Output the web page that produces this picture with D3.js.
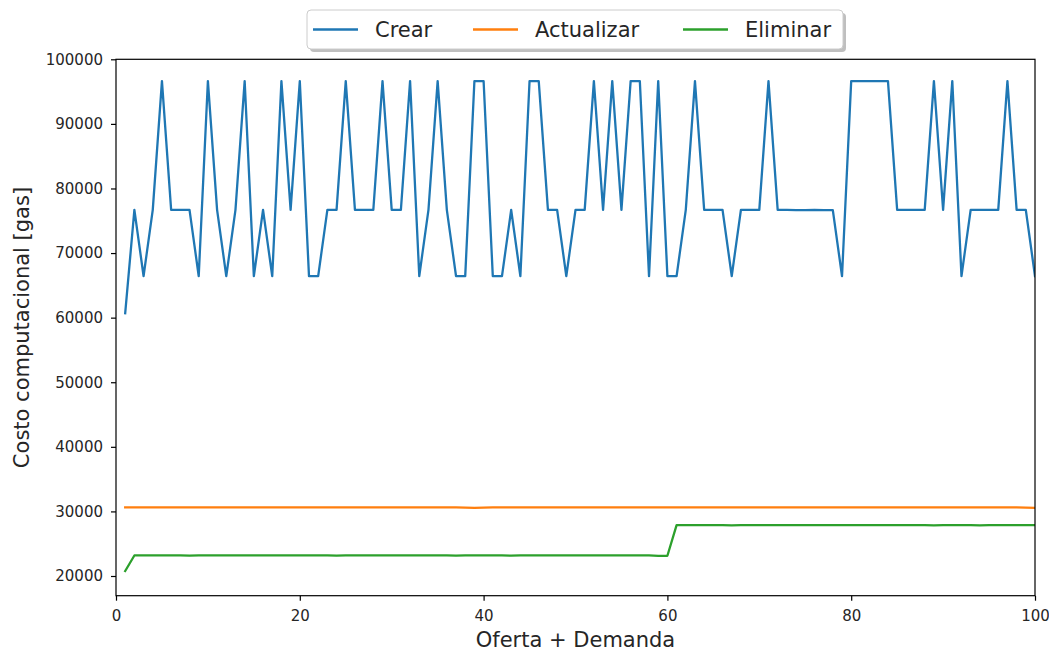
<!DOCTYPE html>
<html>
<head>
<meta charset="utf-8">
<script src="https://cdn.jsdelivr.net/npm/d3@7"></script>
<style>
  body { margin: 0; background: #fff; }
  svg { display: block; font-family: "DejaVu Sans", sans-serif; }
</style>
</head>
<body>
<svg id="chart"></svg>
<script>
const width = 1049, height = 651

// x values: Oferta + Demanda
const ofertaDemanda = [
    1, 2, 3, 4, 5, 6, 7, 8, 9, 10, 11, 12, 13, 14, 15, 16, 17, 18, 19, 20,
    21, 22, 23, 24, 25, 26, 27, 28, 29, 30, 31, 32, 33, 34, 35, 36, 37, 38, 39, 40,
    41, 42, 43, 44, 45, 46, 47, 48, 49, 50, 51, 52, 53, 54, 55, 56, 57, 58, 59, 60,
    61, 62, 63, 64, 65, 66, 67, 68, 69, 70, 71, 72, 73, 74, 75, 76, 77, 78, 79, 80,
    81, 82, 83, 84, 85, 86, 87, 88, 89, 90, 91, 92, 93, 94, 95, 96, 97, 98, 99, 100
]

const crear = [
    60670, 76690, 66430, 76690, 96630, 76690, 76690, 76690, 66430, 96630,
    76690, 66430, 76690, 96630, 66430, 76690, 66430, 96630, 76690, 96630,
    66430, 66430, 76690, 76690, 96630, 76690, 76690, 76690, 96630, 76690,
    76690, 96630, 66430, 76690, 96630, 76690, 66430, 66430, 96630, 96630,
    66430, 66430, 76690, 66430, 96630, 96630, 76690, 76690, 66430, 76690,
    76690, 96630, 76690, 96630, 76690, 96630, 96630, 66430, 96630, 66430,
    66430, 76690, 96630, 76690, 76690, 76690, 66430, 76690, 76690, 76690,
    96630, 76690, 76690, 76650, 76650, 76690, 76650, 76650, 66430, 96630,
    96630, 96630, 96630, 96630, 76690, 76690, 76690, 76690, 96630, 76690,
    96630, 66430, 76690, 76690, 76690, 76690, 96630, 76690, 76690, 66430
]

const actualizar = [
    30620, 30620, 30620, 30620, 30620, 30620, 30620, 30620, 30620, 30620,
    30620, 30620, 30620, 30620, 30620, 30620, 30620, 30620, 30620, 30620,
    30620, 30620, 30620, 30620, 30620, 30620, 30620, 30620, 30620, 30620,
    30620, 30620, 30620, 30620, 30620, 30620, 30620, 30600, 30560, 30600,
    30620, 30620, 30620, 30620, 30620, 30620, 30620, 30620, 30620, 30620,
    30620, 30620, 30620, 30620, 30620, 30620, 30620, 30620, 30620, 30620,
    30620, 30620, 30620, 30620, 30620, 30620, 30620, 30620, 30620, 30620,
    30620, 30620, 30620, 30620, 30620, 30620, 30620, 30620, 30620, 30620,
    30620, 30620, 30620, 30620, 30620, 30620, 30620, 30620, 30620, 30620,
    30620, 30620, 30620, 30620, 30620, 30620, 30620, 30620, 30600, 30540
]

const eliminar = [
    20770, 23180, 23180, 23180, 23180, 23180, 23180, 23150, 23180, 23180,
    23180, 23180, 23180, 23180, 23180, 23180, 23180, 23180, 23180, 23180,
    23180, 23180, 23180, 23150, 23180, 23180, 23180, 23180, 23180, 23180,
    23180, 23180, 23180, 23180, 23180, 23180, 23150, 23180, 23180, 23180,
    23180, 23180, 23150, 23180, 23180, 23180, 23180, 23180, 23180, 23180,
    23180, 23180, 23180, 23180, 23180, 23180, 23180, 23180, 23130, 23130,
    27870, 27870, 27870, 27870, 27870, 27870, 27850, 27870, 27870, 27870,
    27870, 27870, 27870, 27870, 27870, 27870, 27870, 27870, 27870, 27870,
    27870, 27870, 27870, 27870, 27870, 27870, 27870, 27870, 27850, 27870,
    27870, 27870, 27870, 27850, 27870, 27870, 27870, 27870, 27870, 27870
]

const seriesNames = ["Crear", "Actualizar", "Eliminar"]
const seriesValues = [crear, actualizar, eliminar]
const seriesColors = ["#1f77b4", "#ff7f0e", "#2ca02c"]

const xTicks = [0, 20, 40, 60, 80, 100]
const yTicks = [20000, 30000, 40000, 50000, 60000, 70000, 80000, 90000, 100000]

const margin = {left: 116, right: width - 1035, top: 59.3, bottom: height - 595.7}

const svg = d3.select("#chart")
    .attr("width", width)
    .attr("height", height)

svg.append("rect").attr("width", width).attr("height", height).attr("fill", "#fff")

let x = d3.scaleLinear()
    .domain([0, 100])
    .range([margin.left, width - margin.right])

let y = d3.scaleLinear()
    .domain([16950, 100000])
    .range([height - margin.bottom, margin.top])

svg.append("defs").append("clipPath").attr("id", "clip")
    .append("rect")
    .attr("x", margin.left).attr("y", margin.top)
    .attr("width", x.range()[1] - x.range()[0])
    .attr("height", y.range()[0] - y.range()[1])

// lines
let line = d3.line()
    .x((d, i) => x(ofertaDemanda[i]))
    .y(d => y(d))

svg.append("g")
    .attr("clip-path", "url(#clip)")
    .selectAll("path")
    .data(seriesValues)
    .enter()
    .append("path")
    .attr("d", d => line(d))
    .attr("fill", "none")
    .attr("stroke", (d, i) => seriesColors[i])
    .attr("stroke-width", 2.3)
    .attr("stroke-linejoin", "round")
    .attr("stroke-linecap", "square")

// axes
let xAxis = svg.append("g")
    .attr("transform", `translate(0,${height - margin.bottom})`)
    .call(d3.axisBottom(x).tickValues(xTicks).tickFormat(d3.format("d")).tickSizeOuter(0).tickSize(5).tickPadding(10))

let yAxis = svg.append("g")
    .attr("transform", `translate(${margin.left},0)`)
    .call(d3.axisLeft(y).tickValues(yTicks).tickFormat(d3.format("d")).tickSizeOuter(0).tickSize(5).tickPadding(8))

for (let ax of [xAxis, yAxis]) {
    ax.select(".domain").remove()
    ax.selectAll("line").attr("stroke", "#000").attr("stroke-width", 1.2)
    ax.selectAll("text")
        .attr("font-family", "DejaVu Sans")
        .attr("font-size", "15px")
        .attr("fill", "#262626")
}

// spines
svg.append("rect")
    .attr("x", margin.left).attr("y", margin.top)
    .attr("width", x.range()[1] - x.range()[0])
    .attr("height", y.range()[0] - y.range()[1])
    .attr("fill", "none")
    .attr("stroke", "#000")
    .attr("stroke-width", 1.2)

// axis labels
svg.append("text")
    .attr("x", (x.range()[0] + x.range()[1]) / 2)
    .attr("y", 647)
    .attr("text-anchor", "middle")
    .attr("font-size", "21px")
    .attr("fill", "#262626")
    .text("Oferta + Demanda")

svg.append("text")
    .attr("transform", `translate(29,${(y.range()[0] + y.range()[1]) / 2}) rotate(-90)`)
    .attr("text-anchor", "middle")
    .attr("font-size", "21px")
    .attr("fill", "#262626")
    .text("Costo computacional [gas]")

// legend
svg.append("rect") // shadow
    .attr("x", 310).attr("y", 13)
    .attr("width", 536).attr("height", 39)
    .attr("rx", 4)
    .attr("fill", "#808080")
    .attr("fill-opacity", 0.5)
svg.append("rect")
    .attr("x", 307).attr("y", 10)
    .attr("width", 536).attr("height", 39)
    .attr("rx", 4)
    .attr("fill", "#fff")
    .attr("stroke", "#ccc")
    .attr("stroke-width", 1)

const legendLineX = [313, 473, 683]
let item = svg.append("g").selectAll("g")
    .data(seriesNames)
    .enter()
    .append("g")
    .attr("transform", (d, i) => `translate(${legendLineX[i]},29.5)`)

item.append("line")
    .attr("x1", 0).attr("x2", 45)
    .attr("stroke", (d, i) => seriesColors[i])
    .attr("stroke-width", 2.3)

item.append("text")
    .attr("x", 62)
    .attr("y", 7.5)
    .attr("font-size", "21px")
    .attr("fill", "#262626")
    .text(d => d)
</script>
</body>
</html>
